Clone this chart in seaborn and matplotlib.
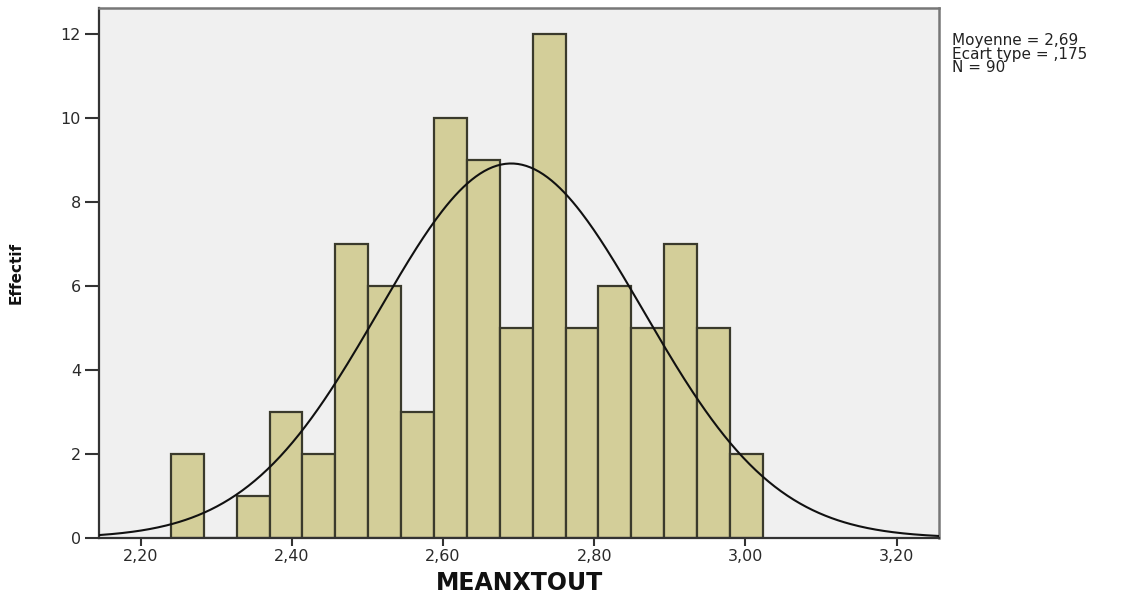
import numpy as np
import pandas as pd
import matplotlib
matplotlib.use("Agg")
import matplotlib.pyplot as plt
import seaborn as sns

# ---- data ----
bin_start = 2.240
bin_width = 0.0435
counts = [2, 0, 1, 3, 2, 7, 6, 3, 10, 9, 5, 12, 5, 6, 5, 7, 5, 2]
mean_val = 2.69
sd_val = 0.175
n_val = 90
x_ticks = [2.20, 2.40, 2.60, 2.80, 3.00, 3.20]
x_tick_labels = ["2,20", "2,40", "2,60", "2,80", "3,00", "3,20"]
y_ticks = [0, 2, 4, 6, 8, 10, 12]
stats_lines = ["Moyenne = 2,69", "Ecart type = ,175", "N = 90"]
x_label = "MEANXTOUT"
y_label = "Effectif"

# ---- styling ----
sns.set_theme(style="white")
plt.rcParams["font.family"] = ["DejaVu Sans"]

fill_col = "#D3CE99"
edge_col = "#3A3A2C"
bg_col = "#F0F0F0"

edges = [bin_start + bin_width * i for i in range(len(counts) + 1)]
centers = [(edges[i] + edges[i + 1]) / 2 for i in range(len(counts))]
df = pd.DataFrame({"x": centers, "w": counts})

W, H = 1129, 598
fig = plt.figure(figsize=(W / 100, H / 100), dpi=100)
fig.patch.set_facecolor("white")
ax = fig.add_axes([99 / W, 1 - 538 / H, (939 - 99) / W, (538 - 8) / H])
ax.set_facecolor(bg_col)

sns.histplot(data=df, x="x", weights="w", bins=edges, color=fill_col,
             edgecolor=edge_col, linewidth=1.6, alpha=1, ax=ax, zorder=2)

xlim = (2.1448, 3.256)
xs = np.linspace(xlim[0], xlim[1], 400)
ys = n_val * bin_width / (sd_val * np.sqrt(2 * np.pi)) * np.exp(-0.5 * ((xs - mean_val) / sd_val) ** 2)
sns.lineplot(x=xs, y=ys, color="#111111", linewidth=1.5, ax=ax, zorder=3)

ax.set_xlim(*xlim)
ax.set_ylim(0, 12.63)
ax.set_xticks(x_ticks)
ax.set_xticklabels(x_tick_labels, fontsize=11.5, color="#2a2a2a")
ax.set_yticks(y_ticks)
ax.set_yticklabels([str(v) for v in y_ticks], fontsize=11.5, color="#2a2a2a")
ax.tick_params(axis="y", direction="out", length=10, width=1.5, color="#333333", pad=3, left=True)
ax.tick_params(axis="x", direction="out", length=6, width=1.5, color="#333333", pad=2, bottom=True)

for side in ["left", "bottom"]:
    ax.spines[side].set_color("#333333")
    ax.spines[side].set_linewidth(1.6)
for side in ["top", "right"]:
    ax.spines[side].set_color("#777777")
    ax.spines[side].set_linewidth(1.8)

ax.set_xlabel(x_label, fontsize=17, fontweight="bold", color="#111111", labelpad=5)
ax.set_ylabel(y_label, fontsize=11, fontweight="bold", color="#111111")
ax.yaxis.set_label_coords((24 - 99) / 840, 0.5)

baselines = [45, 58.5, 72]
for line, b in zip(stats_lines, baselines):
    fig.text(952 / W, 1 - b / H, line, fontsize=11, va="baseline", ha="left", color="#222222")

fig.savefig("out.png", dpi=100, facecolor="white")
